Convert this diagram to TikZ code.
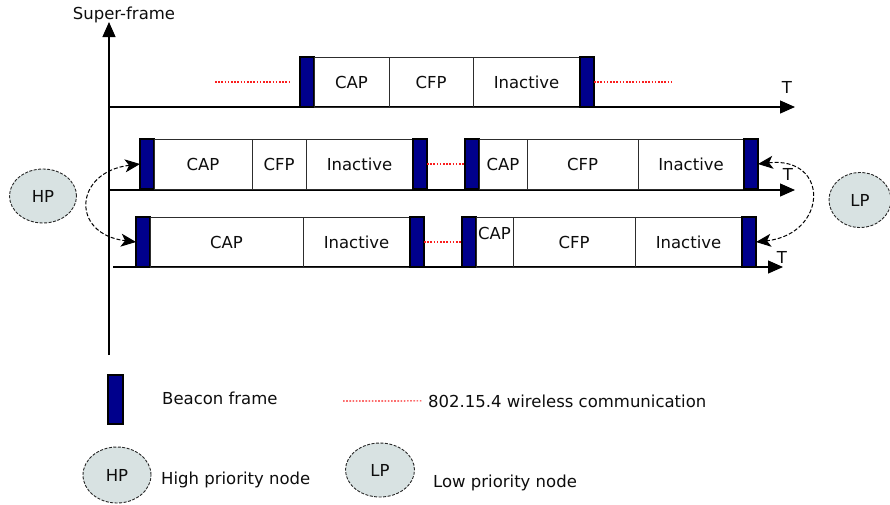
\documentclass[tikz,border=0pt]{standalone}
\usepackage{fontspec}
\setmainfont{DejaVu Sans}
\usepackage{tikz}
\usetikzlibrary{arrows.meta}
\usetikzlibrary{shapes.geometric}
\definecolor{beaconblue}{RGB}{0,0,140}
\definecolor{cellline}{RGB}{45,45,45}
\definecolor{nodefill}{RGB}{216,226,226}
\definecolor{wirelessred}{RGB}{250,30,30}
\newcommand{\widthbeacon}{14}
\newcommand{\heightframe}{50}
\tikzset{
    common/.style={anchor=south west, draw=cellline, rectangle, minimum height=\heightframe, inner sep=0pt, outer sep=0pt, line width=1pt},
    beacon/.style={common, draw=black, line width=1.5pt, fill=beaconblue, minimum width=\widthbeacon},
    axis/.style={-{Triangle[length=15pt, width=13pt]}, line width=1.2pt},
    wireless/.style={wirelessred, line width=1.2pt, dash pattern=on 1.6pt off 1.6pt},
    handover/.style={{Stealth[length=15pt, width=13pt, inset=4pt]}-{Stealth[length=15pt, width=13pt, inset=4pt]}, dash pattern=on 4pt off 2pt, line width=1pt},
    prio/.style={ellipse, draw=black!85, dash pattern=on 3pt off 1.5pt, fill=nodefill, inner sep=0pt, line width=0.9pt},
    legend/.style={anchor=base west, inner sep=0pt}
}

\begin{document}
\begin{tikzpicture}[x=1pt, y=-1pt, font=\fontsize{16.5}{19}\selectfont, text=black!95]
    \useasboundingbox (0,0) rectangle (890,504);

    % axes
    \coordinate (O) at (109,355);
    \coordinate (SF-top) at (109,22);
    \coordinate (T1-start) at (109,107);
    \coordinate (T1-end) at (795,107);
    \coordinate (T2-start) at (109,190);
    \coordinate (T2-end) at (795,190);
    \coordinate (T3-start) at (113,267);
    \coordinate (T3-end) at (783,267);
    \draw[axis] (O) -- (SF-top);
    \draw[axis] (T1-start) -- (T1-end);
    \draw[axis] (T2-start) -- (T2-end);
    \draw[axis] (T3-start) -- (T3-end);
    \node (SF-label) at (124,15) {Super-frame};
    \node (T1) at (787,87) {T};
    \node (T2) at (788,174) {T};
    \node (T3) at (782,257) {T};

    % superframes
    \path
        (300,107) node[beacon] (SF1-left) {}
        ++(0:\widthbeacon) node[common, minimum width=75] {CAP}
        ++(0:75) node[common, minimum width=84] {CFP}
        ++(0:84) node[common, minimum width=107] {Inactive}
        ++(0:107) node[beacon] (SF1-right) {};

    \path
        (140,189) node[beacon] (SF2a-left) {}
        ++(0:\widthbeacon) node[common, minimum width=98] {CAP}
        ++(0:98) node[common, minimum width=54] {CFP}
        ++(0:54) node[common, minimum width=107] {Inactive}
        ++(0:107) node[beacon] (SF2a-right) {};

    \path
        (465,189) node[beacon] (SF2b-left) {}
        ++(0:\widthbeacon) node[common, minimum width=48] {CAP}
        ++(0:48) node[common, minimum width=111] {CFP}
        ++(0:111) node[common, minimum width=106] {Inactive}
        ++(0:106) node[beacon] (SF2b-right) {};

    \path
        (136,267) node[beacon] (SF3a-left) {}
        ++(0:\widthbeacon) node[common, minimum width=153] {CAP}
        ++(0:153) node[common, minimum width=107] {Inactive}
        ++(0:107) node[beacon] (SF3a-right) {};

    \path
        (462,267) node[beacon] (SF3b-left) {}
        ++(0:\widthbeacon) node[common, minimum width=37, text depth=18pt] {CAP}
        ++(0:37) node[common, minimum width=122] {CFP}
        ++(0:122) node[common, minimum width=107] {Inactive}
        ++(0:107) node[beacon] (SF3b-right) {};

    % wireless communication
    \coordinate (W1-start) at (215,82);
    \coordinate (W1-end) at (672,82);
    \draw[wireless, shorten >=11pt] (W1-start) -- (SF1-left.west);
    \draw[wireless] (SF1-right.east) -- (W1-end);
    \draw[wireless] (SF2a-right.east) -- (SF2b-left.west);
    \draw[wireless] (SF3a-right.east) -- (SF3b-left.west);

    % priority nodes
    \node[prio, minimum width=67, minimum height=54] (HP) at (43,196) {HP};
    \node[prio, minimum width=62, minimum height=55] (LP) at (860,200) {LP};
    \draw[handover] (SF2a-left.west) .. controls +(-66,8) and +(-66,-8) .. (SF3a-left.west);
    \draw[handover] (SF2b-right.east) .. controls +(72,-8) and +(72,-8) .. (SF3b-right.east);

    % legend
    \node[beacon, anchor=center, minimum width=15, minimum height=49] (L-beacon) at (115.5,399.5) {};
    \node[legend] (L-beacon-text) at (162,404) {Beacon frame};
    \coordinate (L-wireless) at (343,401);
    \node[legend] (L-wireless-text) at (428,407) {802.15.4 wireless communication};
    \draw[wireless, shorten >=6pt] (L-wireless) -- (L-wireless-text.west);
    \node[prio, minimum width=68, minimum height=56] (L-HP) at (117,475) {HP};
    \node[legend] (L-HP-text) at (161,484) {High priority node};
    \node[prio, minimum width=69, minimum height=54] (L-LP) at (380,470) {LP};
    \node[legend] (L-LP-text) at (433,487) {Low priority node};
\end{tikzpicture}
\end{document}
